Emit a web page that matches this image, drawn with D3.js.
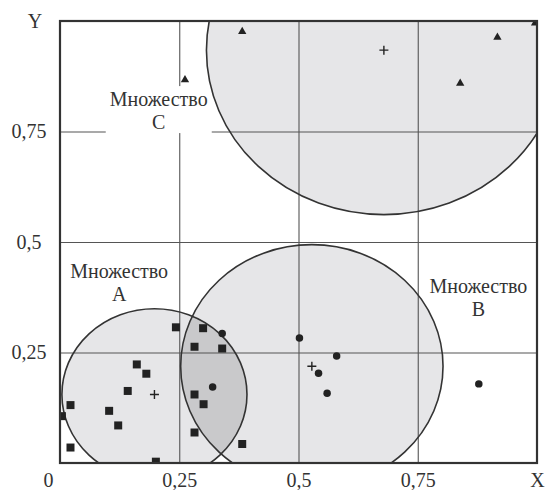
<!DOCTYPE html>
<html>
<head>
<meta charset="utf-8">
<script src="https://cdn.jsdelivr.net/npm/d3@7"></script>
<style>
  body { margin: 0; background: #fff; }
</style>
</head>
<body>
<div id="chart"></div>
<script>
// *** Data
var squaresA = [
    [0.243, 0.307], [0.300, 0.305], [0.282, 0.263], [0.340, 0.259],
    [0.161, 0.223], [0.181, 0.202], [0.142, 0.163], [0.282, 0.155],
    [0.301, 0.133], [0.022, 0.131], [0.103, 0.118], [0.004, 0.106],
    [0.122, 0.085], [0.282, 0.069], [0.382, 0.043], [0.022, 0.035],
    [0.201, 0.003]
];
var dotsB = [
    [0.340, 0.293], [0.320, 0.172], [0.502, 0.283], [0.580, 0.242],
    [0.542, 0.203], [0.560, 0.158], [0.878, 0.179]
];
var trianglesC = [
    [0.382, 0.976], [0.262, 0.867], [0.917, 0.963], [0.839, 0.859], [0.996, 0.995]
];
var setNames = ["A", "B", "C"];
var setCenters = [[0.198, 0.155], [0.528, 0.219], [0.679, 0.934]];
var setRadii = [0.194, 0.275, 0.372];
var setLabels = [["Множество", "A"], ["Множество", "B"], ["Множество", "C"]];
var labelPos = [[0.124, 0.415], [0.877, 0.38], [0.207, 0.803]];

var xTicks = [0, 0.25, 0.5, 0.75, 1];
var xTickLabels = ["0", "0,25", "0,5", "0,75", "X"];
var yTicks = [0.25, 0.5, 0.75, 1];
var yTickLabels = ["0,25", "0,5", "0,75", "Y"];
var gridTicks = [0.25, 0.5, 0.75];

var FONT = "'Liberation Serif', 'DejaVu Serif', serif";

// *** Set up svg
var W = 546, H = 490;
var margin = {top: 21, right: 9, bottom: 27, left: 60},
    width = W - margin.left - margin.right,
    height = H - margin.top - margin.bottom;

var x = d3.scaleLinear().domain([0, 1]).range([0, width]);
var y = d3.scaleLinear().domain([0, 1]).range([height, 0]);

var svg = d3.select("#chart").append("svg")
    .attr("width", W)
    .attr("height", H)
    .attr("font-family", FONT)
    .append("g")
    .attr("transform", "translate(" + margin.left + "," + margin.top + ")");

var defs = svg.append("defs");
defs.append("clipPath").attr("id", "plotclip")
    .append("rect").attr("width", width).attr("height", height);
defs.append("clipPath").attr("id", "clipA")
    .append("ellipse")
    .attr("cx", x(setCenters[0][0]))
    .attr("cy", y(setCenters[0][1]))
    .attr("rx", x(setRadii[0]) - x(0))
    .attr("ry", y(0) - y(setRadii[0]));

var plot = svg.append("g").attr("clip-path", "url(#plotclip)");

function ellipse(sel, i) {
    return sel.attr("cx", x(setCenters[i][0]))
        .attr("cy", y(setCenters[i][1]))
        .attr("rx", x(setRadii[i]) - x(0))
        .attr("ry", y(0) - y(setRadii[i]));
}

// fills
setNames.forEach(function(n, i) {
    plot.append("ellipse").call(ellipse, i)
        .attr("fill", "#e6e6e8").attr("stroke", "none");
});
// A ∩ B darker
plot.append("g").attr("clip-path", "url(#clipA)")
    .append("ellipse").call(ellipse, 1)
    .attr("fill", "#c9c9cb").attr("stroke", "none");

// grid
svg.append("g").attr("class", "grid")
    .attr("transform", "translate(0," + height + ")")
    .call(d3.axisBottom(x).tickValues(gridTicks).tickSize(-height).tickFormat(""))
    .call(function(g) { g.select(".domain").remove(); })
    .selectAll("line").attr("stroke", "#555").attr("stroke-width", 1.1);
svg.append("g").attr("class", "grid")
    .call(d3.axisLeft(y).tickValues(gridTicks).tickSize(-width).tickFormat(""))
    .call(function(g) { g.select(".domain").remove(); })
    .selectAll("line").attr("stroke", "#555").attr("stroke-width", 1.1);

// white box behind label C only (it breaks the grid lines there)
svg.append("rect")
    .attr("x", x(labelPos[2][0]) - 53).attr("y", y(labelPos[2][1]) - 22)
    .attr("width", 106).attr("height", 47)
    .attr("fill", "#fff");

// outlines
var outl = svg.append("g").attr("clip-path", "url(#plotclip)");
setNames.forEach(function(n, i) {
    outl.append("ellipse").call(ellipse, i)
        .attr("fill", "none").attr("stroke", "#333").attr("stroke-width", 1.6);
});

// labels
setLabels.forEach(function(lines, i) {
    var cx = x(labelPos[i][0]), cy = y(labelPos[i][1]);
    var t = svg.append("text")
        .attr("text-anchor", "middle")
        .attr("font-family", FONT)
        .attr("font-size", 20)
        .attr("fill", "#333");
    lines.forEach(function(s, k) {
        t.append("tspan").attr("x", cx).attr("y", cy - 2 + k * 23).text(s);
    });
});

// markers
var marks = svg.append("g").attr("clip-path", "url(#plotclip)");
marks.selectAll(".sq").data(squaresA).enter().append("path")
    .attr("class", "sq")
    .attr("transform", function(d) { return "translate(" + x(d[0]) + "," + y(d[1]) + ")"; })
    .attr("d", d3.symbol(d3.symbolSquare, 64))
    .attr("fill", "#222");
marks.selectAll(".dot").data(dotsB).enter().append("path")
    .attr("class", "dot")
    .attr("transform", function(d) { return "translate(" + x(d[0]) + "," + y(d[1]) + ")"; })
    .attr("d", d3.symbol(d3.symbolCircle, 44))
    .attr("fill", "#222");
marks.selectAll(".tri").data(trianglesC).enter().append("path")
    .attr("class", "tri")
    .attr("transform", function(d) { return "translate(" + x(d[0]) + "," + y(d[1]) + ")"; })
    .attr("d", d3.symbol(d3.symbolTriangle, 30))
    .attr("fill", "#222");
// centres
marks.selectAll(".ctr").data(setCenters).enter().append("path")
    .attr("class", "ctr")
    .attr("transform", function(d) { return "translate(" + x(d[0]) + "," + y(d[1]) + ")"; })
    .attr("d", "M-4.5,0H4.5M0,-4.5V4.5")
    .attr("stroke", "#222").attr("stroke-width", 1.4);

// frame
svg.append("rect")
    .attr("width", width).attr("height", height)
    .attr("fill", "none").attr("stroke", "#333").attr("stroke-width", 2.2);

// axes labels
var xa = svg.append("g")
    .attr("transform", "translate(0," + height + ")")
    .call(d3.axisBottom(x).tickValues(xTicks).tickSize(0).tickPadding(10)
        .tickFormat(function(d, i) { return xTickLabels[i]; }));
xa.attr("font-family", FONT).attr("font-size", 20);
xa.select(".domain").remove();
xa.selectAll("text")
    .attr("fill", "#333")
    .attr("dx", function(d, i) { return i === 0 ? -12 : 0; });

var ya = svg.append("g")
    .call(d3.axisLeft(y).tickValues(yTicks).tickSize(0).tickPadding(0)
        .tickFormat(function(d, i) { return yTickLabels[i]; }));
ya.attr("font-family", FONT).attr("font-size", 20);
ya.select(".domain").remove();
ya.selectAll("text")
    .attr("fill", "#333")
    .attr("text-anchor", "middle")
    .attr("x", function(d, i) { return i === yTicks.length - 1 ? -25 : -31; });
</script>
</body>
</html>
